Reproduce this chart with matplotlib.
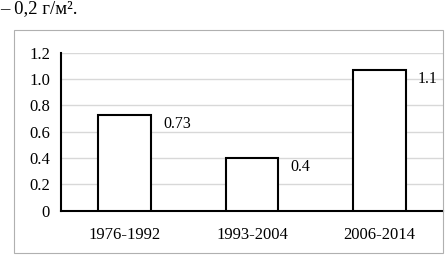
import numpy as np
import matplotlib
matplotlib.use('Agg')
import matplotlib.pyplot as plt
from matplotlib.patches import Rectangle

# data
periods = ['1976-1992', '1993-2004', '2006-2014']
values = [0.73, 0.40, 1.07]
value_labels = ['0.73', '0.4', '1.1']
yticks = [0, 0.2, 0.4, 0.6, 0.8, 1.0, 1.2]
ytick_labels = ['0', '0.2', '0.4', '0.6', '0.8', '1.0', '1.2']

plt.rcParams['font.family'] = ['Liberation Serif', 'DejaVu Serif']

fig = plt.figure(figsize=(4.47, 2.56), dpi=100)

# page text above the chart
fig.text(0.0, 0.998, '\u2013 0,2 \u0433/\u043c\u00b2.', fontsize=13.5, ha='left', va='top')

# frame of the inserted chart
fig.patches.append(Rectangle((14 / 447., 3 / 256.), 429 / 447., 223 / 256.,
                             transform=fig.transFigure, fill=False,
                             edgecolor='#b0b0b0', linewidth=0.8))

ax = fig.add_axes([61 / 447., 45.3 / 256., 382 / 447., 158 / 256.])

index = np.arange(len(periods))
ax.bar(index, values, 0.415, color='white', edgecolor='black', linewidth=1.5, zorder=3)

for i in range(len(values)):
    ax.annotate(value_labels[i], xy=(index[i] + 0.2075, values[i]), xytext=(12, -9),
                textcoords='offset pixels', ha='left', va='center', fontsize=11.5)

ax.set_xlim(-0.5, 2.5)
ax.set_ylim(0, 1.2)
ax.set_yticks(yticks)
ax.set_yticklabels(ytick_labels, fontsize=12)
ax.set_xticks(index)
ax.set_xticklabels(periods, fontsize=12)
ax.tick_params(axis='both', length=0, pad=8)
ax.tick_params(axis='x', pad=12)

ax.yaxis.grid(True, color='#d8d8d8', linewidth=1.0, zorder=0)
ax.set_axisbelow(True)
for s in ['top', 'right']:
    ax.spines[s].set_visible(False)
ax.spines['left'].set_linewidth(1.5)
ax.spines['bottom'].set_linewidth(1.5)

plt.savefig('out.png', dpi=100)
